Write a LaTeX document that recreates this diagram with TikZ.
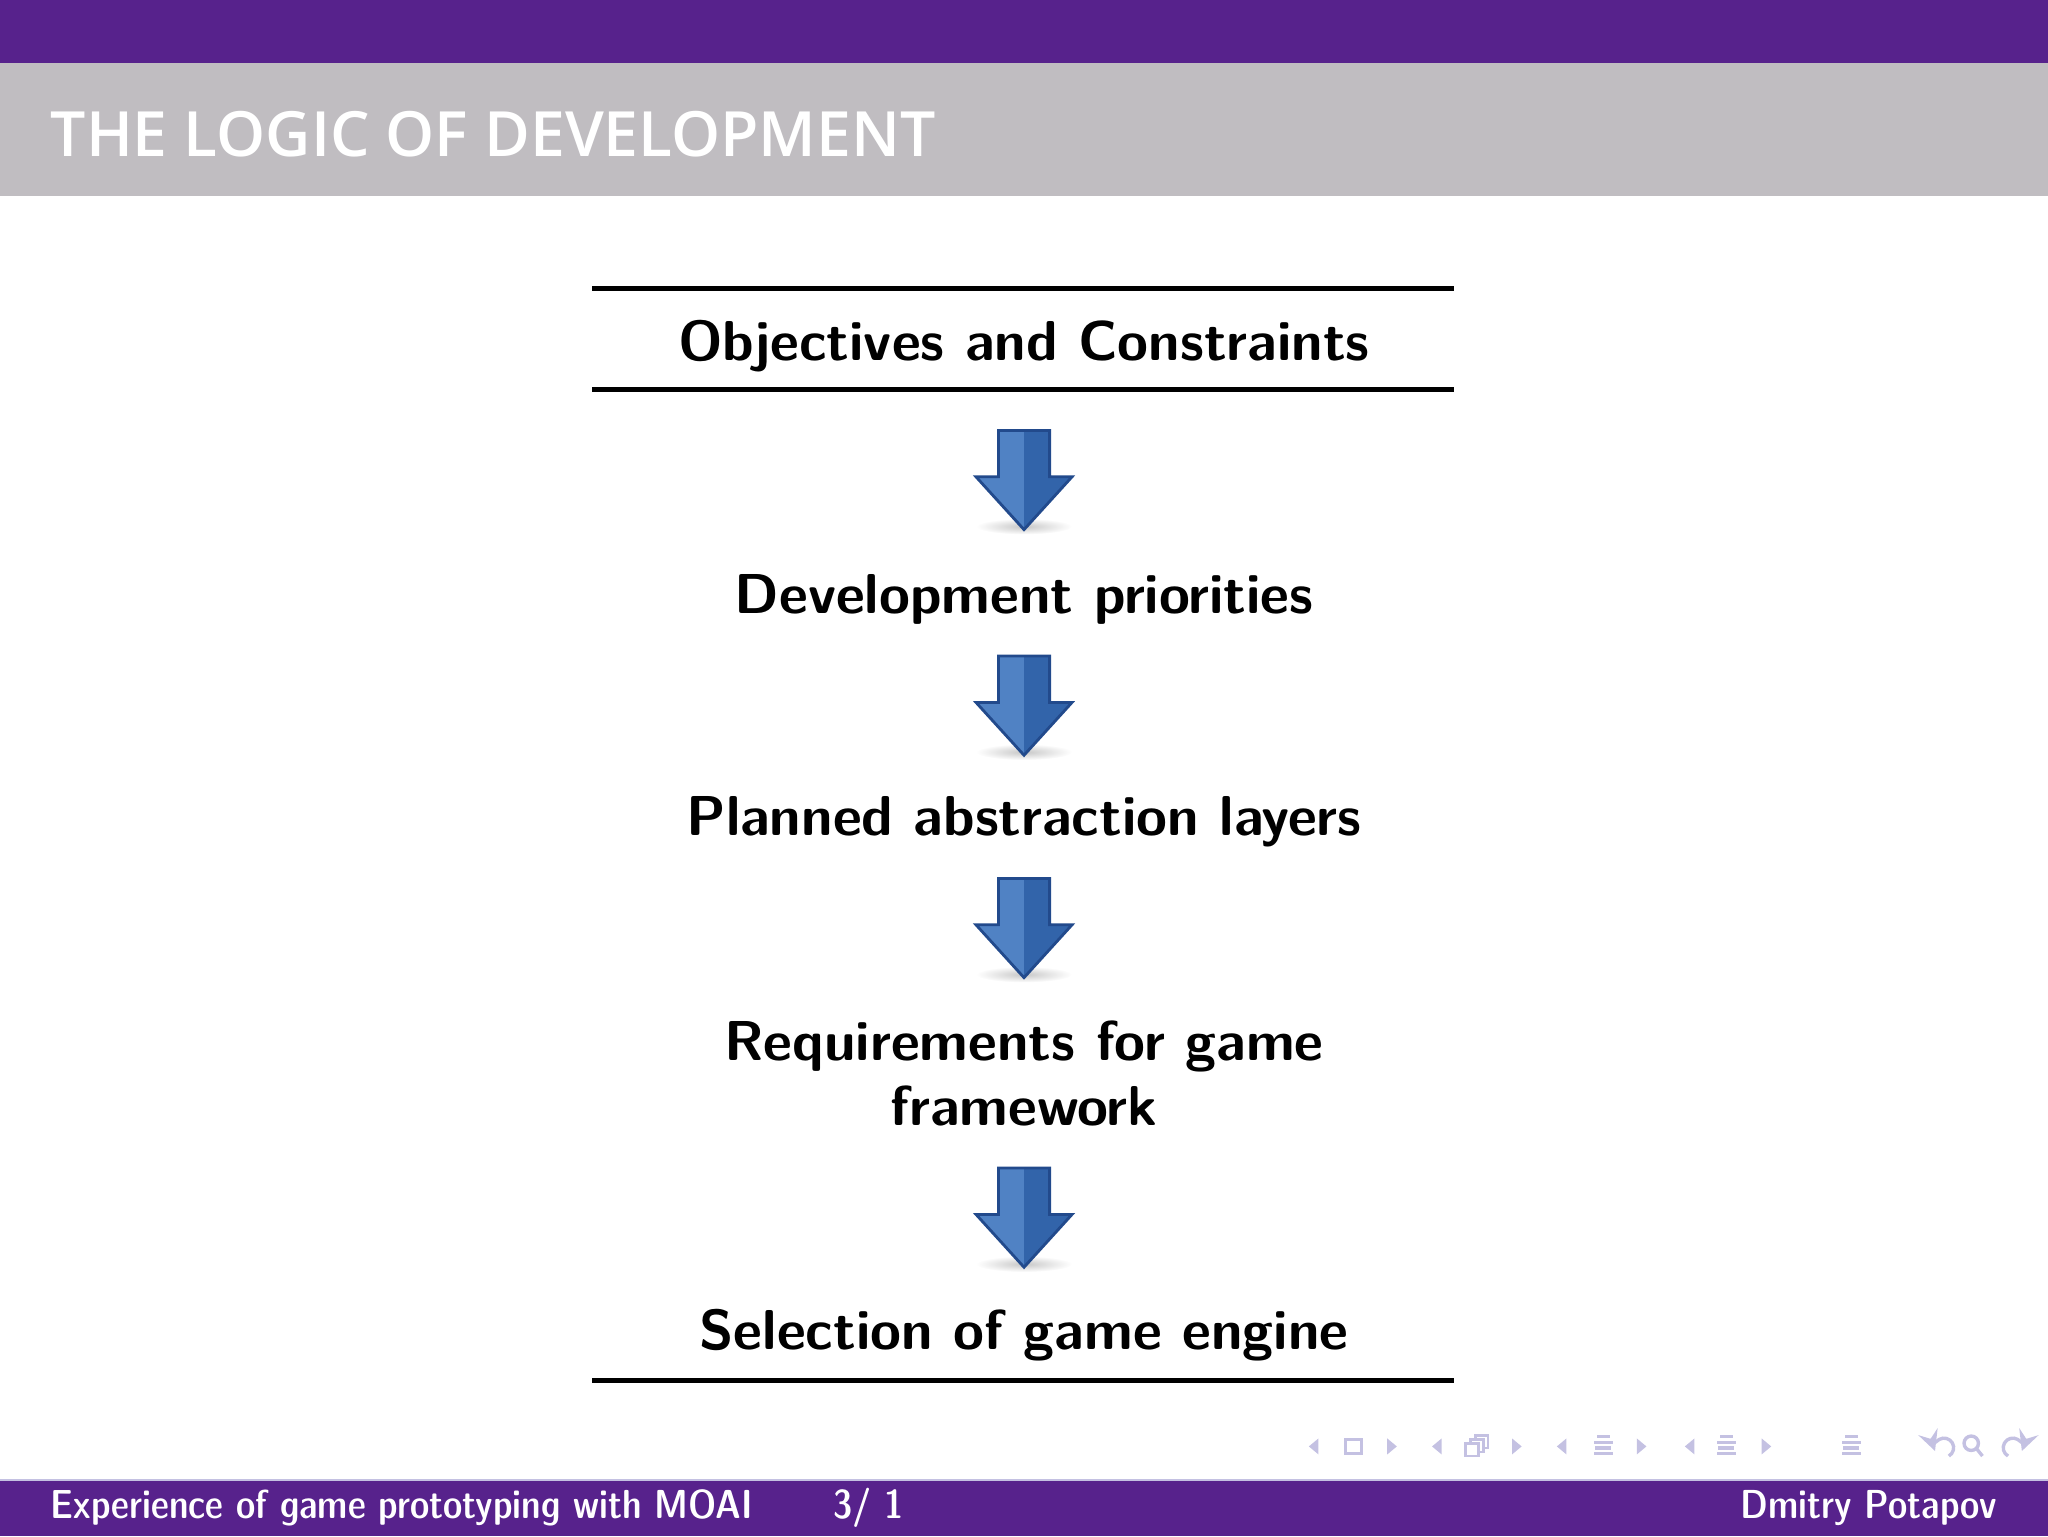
\documentclass[tikz,border=0pt]{standalone}
\usepackage{fontspec}
\usetikzlibrary{positioning}
\newfontfamily\titlefont{Open Sans Semibold}

\definecolor{slidepurple}{RGB}{87,34,140}
\definecolor{titlegray}{RGB}{192,189,193}
\definecolor{navgray}{RGB}{196,193,226}
\definecolor{arrowlight}{RGB}{80,130,196}
\definecolor{arrowdark}{RGB}{50,100,170}
\definecolor{arrowedge}{RGB}{34,74,140}

\tikzset{
  pics/downarrow/.style={code={
    % soft shadow under the tip
    \shade[inner color=black!22, outer color=white] (0,-0.6) ellipse (0.3 and 0.05);
    \fill[arrowlight] (-0.16,0) -- (0,0) -- (0,-0.62) -- (-0.30,-0.29) -- (-0.16,-0.29) -- cycle;
    \fill[arrowdark] (0.16,0) -- (0,0) -- (0,-0.62) -- (0.30,-0.29) -- (0.16,-0.29) -- cycle;
    \draw[arrowedge, line width=0.5pt, line join=miter]
      (-0.16,0) -- (0.16,0) -- (0.16,-0.29) -- (0.30,-0.29) -- (0,-0.62)
      -- (-0.30,-0.29) -- (-0.16,-0.29) -- cycle;
  }},
  stepfont/.style={font=\fontsize{10}{11.6}\sffamily\bfseries},
  footfont/.style={font=\fontsize{7.2}{9}\sffamily\fontseries{sbc}\selectfont},
}

\begin{document}
\begin{tikzpicture}
\useasboundingbox (0,0) rectangle (12.8,9.6);

% header
\fill[slidepurple] (0,9.208) rectangle (12.8,9.6);
\fill[titlegray] (0,8.376) rectangle (12.8,9.208);
\node[anchor=base west, inner sep=0, text=white,
      font=\fontsize{11.1}{13}\titlefont] (title) at (0.31,8.62) {THE LOGIC OF DEVELOPMENT};

% rules
\draw[line width=0.9pt] (3.70,7.796) -- (9.09,7.796);
\draw[line width=0.9pt] (3.70,7.167) -- (9.09,7.167);
\draw[line width=0.9pt] (3.70,0.971) -- (9.09,0.971);

\begin{scope}[every node/.style={stepfont, align=center, anchor=base, inner sep=0}]
  \node (obj) at (6.4,7.347) {Objectives and Constraints};
  \node (prio) at (6.4,5.763) {Development priorities};
  \node (layers) at (6.4,4.376) {Planned abstraction layers};
  \node (req) at (6.4,2.563) {Requirements for game\\framework};
  \node (engine) at (6.4,1.167) {Selection of game engine};
\end{scope}

\pic at (6.4,6.91) {downarrow};
\pic at (6.4,5.50) {downarrow};
\pic at (6.4,4.11) {downarrow};
\pic at (6.4,2.30) {downarrow};

% navigation symbols
\foreach \x in {8.21,8.98,9.76,10.56}
  \fill[navgray] (\x-0.03,0.56) -- ++(0.06,0.05) -- ++(0,-0.1) -- cycle;
\foreach \x in {8.70,9.48,10.26,11.04}
  \fill[navgray] (\x+0.03,0.56) -- ++(-0.06,0.05) -- ++(0,-0.1) -- cycle;
\draw[navgray, line width=0.6pt] (8.41,0.515) rectangle (8.51,0.605);
\begin{scope}[navgray, line width=0.5pt]
  \draw (9.16,0.50) rectangle (9.24,0.58);
  \draw (9.19,0.58) -- (9.19,0.605) -- (9.27,0.605) -- (9.27,0.525) -- (9.24,0.525);
  \draw (9.22,0.605) -- (9.22,0.63) -- (9.30,0.63) -- (9.30,0.55) -- (9.27,0.55);
\end{scope}
\foreach \x in {10.02,10.79,11.57}
  \foreach \y/\w in {0.62/0.04,0.585/0.06,0.55/0.05,0.515/0.06}
    \fill[navgray] (\x-\w,\y-0.01) rectangle (\x+\w,\y+0.01);
\begin{scope}[navgray, line width=0.6pt]
  \draw[-stealth] (12.18,0.50) arc (-60:200:0.06);
  \draw (12.32,0.58) circle (0.045);
  \draw (12.35,0.55) -- (12.39,0.50);
  \draw[-stealth] (12.55,0.50) arc (240:-20:0.06);
\end{scope}

% footer
\fill[slidepurple] (0,0) rectangle (12.8,0.35);
\draw[navgray, line width=0.3pt] (0,0.35) -- (12.8,0.35);
\begin{scope}[every node/.style={footfont, text=white, inner sep=0}]
  \node[anchor=base west] (talk) at (0.31,0.11) {Experience of game prototyping with MOAI};
  \node[anchor=base west] (page) at (5.2,0.11) {3/ 1};
  \node[anchor=base east] (author) at (12.49,0.11) {Dmitry Potapov};
\end{scope}
\end{tikzpicture}
\end{document}
